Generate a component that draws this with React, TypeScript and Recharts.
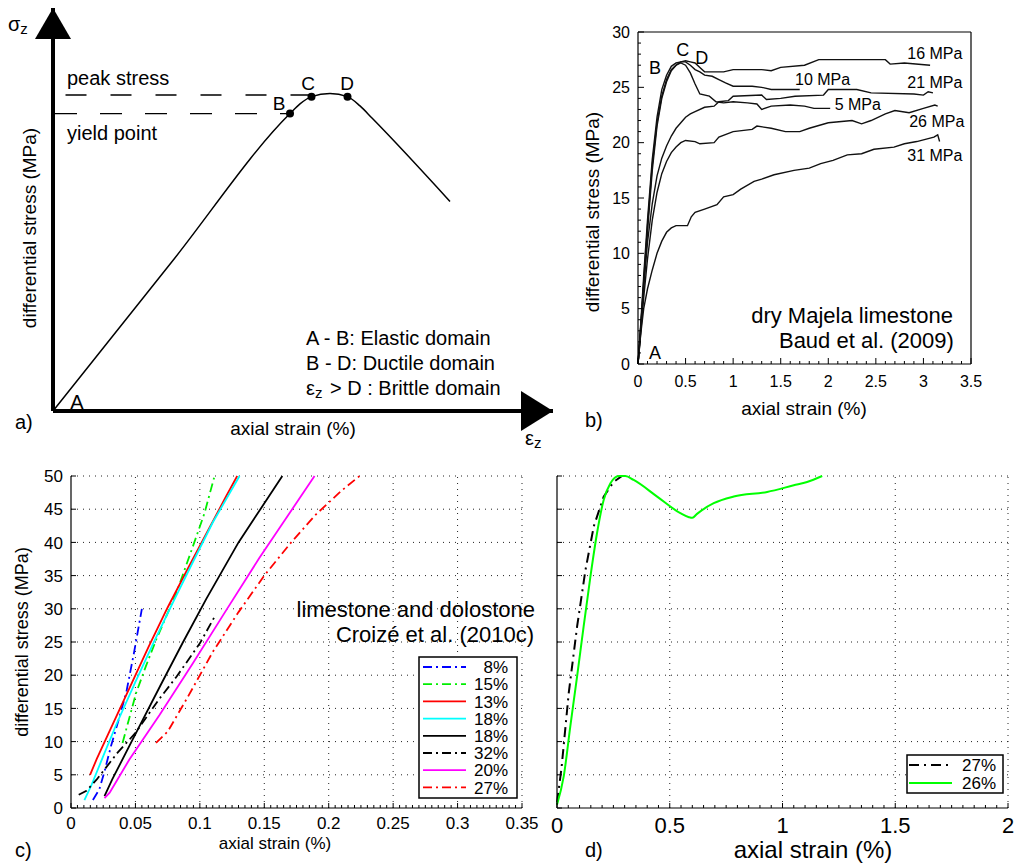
import React from "react";
import { LineChart, Line, XAxis, YAxis, ReferenceLine, ReferenceDot } from "recharts";

const FONT = "'Liberation Sans', Arial, Helvetica, sans-serif";

// ---------- a) schematic curve (arbitrary units) ----------
const schemeCurve = [
  [0, 0], [2.37, 3.69], [4.74, 7.38], [4.94, 7.62], [5.17, 7.8], [5.54, 7.88],
  [5.89, 7.8], [6.14, 7.57], [6.38, 7.27], [7.94, 5.2],
];
const schemeMarks = [[4.74, 7.38], [5.17, 7.8], [5.89, 7.8]];
const peakLevel = 7.84;
const yieldLevel = 7.38;

// ---------- b) dry Majela limestone, Baud et al. (2009) ----------
const baud5 = [
  [0, 0], [0.03, 3.5], [0.06, 7.5], [0.1, 12.5], [0.15, 18], [0.2, 21.8], [0.25, 24.2], [0.3, 25.7],
  [0.35, 26.6], [0.4, 27.0], [0.45, 27.2], [0.5, 27.0], [0.55, 26.3], [0.6, 25.3], [0.65, 24.4],
  [0.75, 24.2], [0.82, 23.7], [0.9, 23.6], [1.0, 23.7], [1.15, 23.6], [1.25, 23.5], [1.3, 23.0],
  [1.4, 23.3], [1.6, 23.4], [1.75, 23.3], [1.85, 23.1], [2.02, 23.1],
];
const baud10 = [
  [0, 0], [0.03, 3.8], [0.06, 8], [0.1, 13], [0.15, 18.5], [0.2, 22.3], [0.25, 24.8], [0.3, 26.1],
  [0.35, 26.9], [0.4, 27.2], [0.45, 27.3], [0.5, 27.3], [0.55, 27.0], [0.6, 26.6], [0.65, 26.4],
  [0.7, 26.1], [0.78, 26.0], [0.85, 25.7], [0.92, 25.4], [1.0, 25.1], [1.2, 25.1], [1.3, 25.0],
  [1.4, 24.8], [1.55, 24.8], [1.7, 24.8],
];
const baud16 = [
  [0, 0], [0.03, 3.2], [0.06, 7], [0.1, 12], [0.15, 17.5], [0.2, 21.5], [0.25, 24], [0.3, 25.5],
  [0.35, 26.5], [0.4, 27.0], [0.45, 27.3], [0.5, 27.4], [0.55, 27.3], [0.6, 27.2], [0.65, 26.8],
  [0.7, 26.4], [0.9, 26.4], [1.0, 26.6], [1.3, 26.6], [1.4, 26.5], [1.5, 26.8], [1.75, 27.0],
  [1.9, 27.5], [2.3, 27.5], [2.6, 27.5], [2.65, 27.1], [2.8, 27.2], [3.07, 27.0],
];
const baud21 = [
  [0, 0], [0.03, 3.5], [0.06, 7], [0.1, 11], [0.15, 14.5], [0.2, 17], [0.25, 18.6], [0.3, 19.7],
  [0.35, 20.6], [0.4, 21.3], [0.45, 21.8], [0.5, 22.3], [0.55, 22.6], [0.6, 22.8], [0.7, 23.2],
  [0.8, 23.3], [0.85, 23.7], [0.95, 23.8], [1.0, 24.2], [1.3, 24.3], [1.35, 23.9], [1.5, 24.0],
  [1.65, 24.2], [1.95, 24.3], [2.0, 24.8], [2.3, 24.8], [2.45, 24.5], [2.9, 24.4], [3.0, 24.3],
  [3.05, 24.6], [3.1, 24.5],
];
const baud26 = [
  [0, 0], [0.03, 3], [0.06, 6], [0.1, 9.5], [0.15, 13], [0.2, 15.5], [0.25, 17.2], [0.3, 18.3],
  [0.35, 19.1], [0.4, 19.6], [0.45, 20.0], [0.5, 20.2], [0.6, 20.1], [0.65, 19.9], [0.8, 20.0],
  [0.85, 20.5], [1.0, 21.0], [1.2, 21.2], [1.25, 21.5], [1.4, 21.3], [1.55, 21.0], [1.7, 21.0],
  [1.8, 21.3], [2.0, 21.8], [2.25, 22.0], [2.35, 21.7], [2.45, 22.0], [2.6, 22.6], [2.7, 22.9],
  [2.85, 22.7], [3.0, 23.1], [3.12, 23.4], [3.15, 23.3],
];
const baud31 = [
  [0, 0], [0.03, 2.8], [0.06, 5], [0.1, 6.8], [0.15, 8.5], [0.2, 10], [0.25, 11.1], [0.3, 11.9],
  [0.35, 12.3], [0.4, 12.5], [0.52, 12.5], [0.56, 13.3], [0.6, 13.7], [0.7, 14.0], [0.83, 14.4],
  [0.9, 15.1], [1.0, 15.3], [1.08, 15.8], [1.22, 16.5], [1.3, 16.7], [1.43, 17.1], [1.64, 17.5],
  [1.8, 17.7], [1.92, 18.1], [2.05, 18.4], [2.2, 18.9], [2.35, 19.0], [2.48, 19.4], [2.69, 19.6],
  [2.8, 19.9], [2.93, 20.1], [3.11, 20.5], [3.15, 20.7], [3.17, 20.1],
];
const baudCurves = [baud5, baud10, baud16, baud21, baud26, baud31];

// ---------- c) limestone and dolostone, Croizé et al. (2010c) ----------
const c8 = [[0.017, 1.2], [0.022, 2.8], [0.026, 5.5], [0.031, 9.3], [0.037, 13.3], [0.043, 17.5], [0.049, 23.5], [0.055, 30]];
const c15 = [[0.04, 9.8], [0.0505, 17.3], [0.058, 21.3], [0.066, 25.3], [0.0816, 32.3], [0.0946, 39.4], [0.1036, 44.4], [0.1114, 50]];
const c13 = [[0.0148, 5], [0.02, 7.4], [0.03, 11.6], [0.045, 17.9], [0.06, 24.2], [0.075, 30.2], [0.09, 35.8], [0.105, 41.3], [0.12, 46.8], [0.129, 50]];
const c18a = [[0.0104, 1.2], [0.016, 3.5], [0.025, 7.8], [0.035, 12.5], [0.05, 19], [0.065, 25.3], [0.08, 31.3], [0.095, 37.2], [0.11, 43], [0.1308, 50]];
const c18b = [[0.026, 1.8], [0.032, 4.3], [0.047, 10], [0.069, 18.3], [0.087, 25], [0.105, 31.5], [0.13, 40], [0.164, 50]];
const c32 = [[0.006, 2.0], [0.012, 2.6], [0.02, 4.3], [0.036, 8.3], [0.05, 11.3], [0.068, 16.3], [0.082, 19.8], [0.1, 24.8], [0.112, 29]];
const c20 = [[0.026, 1.5], [0.03, 2.3], [0.0453, 7.3], [0.0687, 14], [0.0946, 21.8], [0.1205, 29.8], [0.146, 37.6], [0.189, 50]];
const c27 = [[0.066, 9.8], [0.075, 11.5], [0.09, 16.5], [0.11, 23.5], [0.13, 29.5], [0.15, 35], [0.17, 39.8], [0.19, 44.2], [0.21, 47.8], [0.224, 50]];
const croizeCurves = [c8, c15, c13, c18a, c18b, c32, c20, c27];
const croizeNames = ["8%", "15%", "13%", "18%", "18%", "32%", "20%", "27%"];
const croizeColors = ["#0000ff", "#00ee00", "#ff0000", "#00ffff", "#000000", "#000000", "#ff00ff", "#ff0000"];
const DASHDOT = "9 4 2 4";
const croizeDash = [DASHDOT, DASHDOT, undefined, undefined, undefined, DASHDOT, undefined, DASHDOT];

// ---------- d) ----------
const d27 = [[0, 0.8], [0.02, 6], [0.052, 17.3], [0.089, 27.3], [0.126, 35.8], [0.163, 42.4], [0.207, 46.9], [0.251, 49.1], [0.288, 50]];
const d26 = [
  [0, 0.5], [0.03, 4.8], [0.059, 12.3], [0.089, 19.8], [0.118, 27.3], [0.148, 34.8], [0.177, 41.3],
  [0.207, 46.4], [0.237, 48.9], [0.274, 50], [0.303, 50], [0.34, 49.4], [0.444, 46.9], [0.547, 44.4],
  [0.585, 43.8], [0.6, 43.7], [0.621, 44.3], [0.695, 45.9], [0.784, 46.9], [0.932, 47.6], [1.05, 48.6],
  [1.109, 49.1], [1.176, 50],
];
const dNames = ["27%", "26%"];

// ticks
const bXMajor = [0, 0.5, 1, 1.5, 2, 2.5, 3, 3.5];
const bYMajor = [0, 5, 10, 15, 20, 25, 30];
const cXMajor = [0, 0.05, 0.1, 0.15, 0.2, 0.25, 0.3, 0.35];
const yMajor50 = [0, 5, 10, 15, 20, 25, 30, 35, 40, 45, 50];
const dXMajor = [0, 0.5, 1, 1.5, 2];

const steps = (from: number, to: number, step: number) => {
  const out: number[] = [];
  const n = Math.round((to - from) / step);
  for (let i = 0; i <= n; i++) out.push(Math.round((from + i * step) * 10000) / 10000);
  return out;
};

const pts = (a: number[][]) => a.map(([x, y]) => ({ x, y }));
const isIn = (list: number[], v: number) => list.some((m) => Math.abs(m - v) < 1e-9);

type Side = "bottom" | "top" | "left" | "right";
const makeTick = (side: Side, major: number[], fs: number, gap: number, majLen: number, minLen: number, labels: boolean) =>
  (props: any) => {
    const { x, y, payload } = props;
    const v = payload.value;
    const maj = isIn(major, v);
    const len = maj ? majLen : minLen;
    let x2 = x, y2 = y;
    if (side === "bottom") y2 = y - len;
    if (side === "top") y2 = y + len;
    if (side === "left") x2 = x + len;
    if (side === "right") x2 = x - len;
    return (
      <g>
        {len > 0 && <line x1={x} y1={y} x2={x2} y2={y2} stroke="#000" strokeWidth={1} />}
        {labels && maj && side === "bottom" && (
          <text x={x} y={y + gap} dy="0.72em" textAnchor="middle" fontSize={fs} fill="#000" fontFamily={FONT}>{String(v)}</text>
        )}
        {labels && maj && side === "left" && (
          <text x={x - gap} y={y} dy="0.36em" textAnchor="end" fontSize={fs} fill="#000" fontFamily={FONT}>{String(v)}</text>
        )}
      </g>
    );
  };

const note = (key: string, x: number, y: number, text: React.ReactNode, fs: number, anchor: string = "middle") => (
  <ReferenceDot
    key={key}
    x={x}
    y={y}
    ifOverflow="visible"
    shape={(p: any) => (
      <text x={p.cx} y={p.cy} dy="0.36em" textAnchor={anchor} fontSize={fs} fill="#000" fontFamily={FONT}>{text}</text>
    )}
  />
);

const Sub = ({ base, sub }: { base: string; sub: string }) => (
  <>
    {base}
    <tspan fontSize="0.75em" dy="0.2em">{sub}</tspan>
    <tspan dy="-0.2em"> </tspan>
  </>
);

function PanelA() {
  return (
    <LineChart width={600} height={450} margin={{ top: 8, right: 47, bottom: 29, left: 43 }}>
      <XAxis type="number" dataKey="x" domain={[0, 10]} height={10} tick={false} tickLine={false} axisLine={{ stroke: "#000", strokeWidth: 4 }} />
      <YAxis type="number" dataKey="y" domain={[0, 10]} width={10} tick={false} tickLine={false} axisLine={{ stroke: "#000", strokeWidth: 4 }} />
      <ReferenceLine segment={[{ x: 0.25, y: peakLevel }, { x: schemeMarks[1][0], y: peakLevel }]} stroke="#000" strokeWidth={1.4} strokeDasharray="21 24" ifOverflow="visible" />
      <ReferenceLine segment={[{ x: 0.04, y: yieldLevel }, { x: schemeMarks[0][0], y: yieldLevel }]} stroke="#000" strokeWidth={1.4} strokeDasharray="22 23" ifOverflow="visible" />
      <Line data={pts(schemeCurve)} dataKey="y" type="monotone" stroke="#000" strokeWidth={1.5} dot={false} isAnimationActive={false} />
      {schemeMarks.map(([x, y], i) => (
        <ReferenceDot key={"m" + i} x={x} y={y} r={4} fill="#000" stroke="none" ifOverflow="visible" />
      ))}
      <ReferenceDot x={10} y={0} ifOverflow="visible" shape={(p: any) => (
        <polygon points={`${p.cx},${p.cy} ${p.cx - 32},${p.cy - 20} ${p.cx - 32},${p.cy + 20}`} fill="#000" />
      )} />
      <ReferenceDot x={0} y={10} ifOverflow="visible" shape={(p: any) => (
        <polygon points={`${p.cx},${p.cy} ${p.cx - 18},${p.cy + 31} ${p.cx + 18},${p.cy + 31}`} fill="#000" />
      )} />
      {note("ps", 0.28, 8.26, "peak stress", 20, "start")}
      {note("yp", 0.28, 6.9, "yield point", 20, "start")}
      {note("A", 0.48, 0.22, "A", 20)}
      {note("B", 4.52, 7.64, "B", 19)}
      {note("C", 5.1, 8.14, "C", 19)}
      {note("D", 5.88, 8.14, "D", 19)}
      {note("l1", 5.06, 1.81, "A - B: Elastic domain", 20, "start")}
      {note("l2", 5.06, 1.19, "B - D: Ductile domain", 20, "start")}
      {note("l3", 5.06, 0.57, <Sub base="ε" sub="z" />, 20, "start")}
      {note("l3b", 5.54, 0.57, "> D : Brittle domain", 20, "start")}
    </LineChart>
  );
}

function PanelB() {
  const xt = steps(0, 3.5, 0.1);
  const yt = steps(0, 30, 1);
  const bLabels = ["5 MPa", "10 MPa", "16 MPa", "21 MPa", "26 MPa", "31 MPa"];
  return (
    <LineChart width={440} height={400} margin={{ top: 31, right: 28, bottom: 6, left: 38 }}>
      <XAxis xAxisId={0} type="number" dataKey="x" domain={[0, 3.5]} ticks={xt} interval={0} height={30} tickSize={0} tickMargin={0} tickLine={false}
        axisLine={{ stroke: "#000", strokeWidth: 1.2 }} tick={makeTick("bottom", bXMajor, 16, 11, 6, 3, true)} />
      <XAxis xAxisId="top" orientation="top" type="number" dataKey="x" domain={[0, 3.5]} ticks={xt} interval={0} height={1} tickSize={0} tickMargin={0} tickLine={false}
        axisLine={{ stroke: "#000", strokeWidth: 1.2 }} tick={makeTick("top", bXMajor, 16, 0, 6, 3, false)} />
      <YAxis yAxisId={0} type="number" dataKey="y" domain={[0, 30]} ticks={yt} interval={0} width={40} tickSize={0} tickMargin={0} tickLine={false}
        axisLine={{ stroke: "#000", strokeWidth: 1.2 }} tick={makeTick("left", bYMajor, 16, 8, 6, 3, true)} />
      <YAxis yAxisId="right" orientation="right" type="number" dataKey="y" domain={[0, 30]} ticks={yt} interval={0} width={1} tickSize={0} tickMargin={0} tickLine={false}
        axisLine={{ stroke: "#000", strokeWidth: 1.2 }} tick={makeTick("right", bYMajor, 16, 0, 6, 3, false)} />
      {baudCurves.map((c, i) => (
        <Line key={bLabels[i]} name={bLabels[i]} data={pts(c)} dataKey="y" type="linear" stroke="#111" strokeWidth={1.4} dot={false} isAnimationActive={false} />
      ))}
      {note("bB", 0.18, 26.75, "B", 18)}
      {note("bC", 0.47, 28.4, "C", 18)}
      {note("bD", 0.67, 27.65, "D", 18)}
      {note("bA", 0.18, 1.08, "A", 18)}
      {note("b16", 3.12, 28.1, "16 MPa", 16)}
      {note("b10", 1.94, 25.75, "10 MPa", 16)}
      {note("b21", 3.12, 25.5, "21 MPa", 16)}
      {note("b5", 2.31, 23.5, "5 MPa", 16)}
      {note("b26", 3.14, 21.95, "26 MPa", 16)}
      {note("b31", 3.12, 18.9, "31 MPa", 16)}
      {note("bt1", 3.31, 4.43, "dry Majela limestone", 22, "end")}
      {note("bt2", 3.32, 2.17, "Baud et al. (2009)", 22, "end")}
    </LineChart>
  );
}

const gridProps = { stroke: "#222", strokeWidth: 1, strokeDasharray: "1 5" };

function PanelC() {
  const xt = steps(0, 0.35, 0.005);
  return (
    <LineChart width={560} height={413} margin={{ top: 26, right: 38, bottom: 25, left: 31 }}>
      <XAxis type="number" dataKey="x" domain={[0, 0.35]} ticks={xt} interval={0} height={30} tickSize={0} tickMargin={0} tickLine={false}
        axisLine={{ stroke: "#000", strokeWidth: 1.2 }} tick={makeTick("bottom", cXMajor, 17, 9, 5, 3, true)} />
      <YAxis type="number" dataKey="y" domain={[0, 50]} ticks={yMajor50} interval={0} width={40} tickSize={0} tickMargin={0} tickLine={false}
        axisLine={{ stroke: "#000", strokeWidth: 1.2 }} tick={makeTick("left", yMajor50, 17, 8, 5, 0, true)} />
      {cXMajor.slice(1).map((v) => <ReferenceLine key={"gx" + v} x={v} {...gridProps} />)}
      {yMajor50.slice(1).map((v) => <ReferenceLine key={"gy" + v} y={v} {...gridProps} />)}
      {croizeCurves.map((c, i) => (
        <Line key={"c" + i} name={croizeNames[i]} data={pts(c)} dataKey="y" type="linear" stroke={croizeColors[i]} strokeWidth={1.8}
          strokeDasharray={croizeDash[i]} dot={false} isAnimationActive={false} />
      ))}
    </LineChart>
  );
}

function PanelD() {
  const xt = steps(0, 2, 0.05);
  return (
    <LineChart width={474} height={413} margin={{ top: 26, right: 6, bottom: 25, left: 7 }}>
      <XAxis type="number" dataKey="x" domain={[0, 2]} ticks={xt} interval={0} height={30} tickSize={0} tickMargin={0} tickLine={false}
        axisLine={{ stroke: "#000", strokeWidth: 1.2 }} tick={makeTick("bottom", dXMajor, 22, 9, 5, 3, true)} />
      <YAxis type="number" dataKey="y" domain={[0, 50]} ticks={yMajor50} interval={0} width={10} tickSize={0} tickMargin={0} tickLine={false}
        axisLine={{ stroke: "#000", strokeWidth: 1.2 }} tick={makeTick("left", yMajor50, 17, 8, 5, 0, false)} />
      {dXMajor.slice(1).map((v) => <ReferenceLine key={"gx" + v} x={v} {...gridProps} />)}
      {yMajor50.slice(1).map((v) => <ReferenceLine key={"gy" + v} y={v} {...gridProps} />)}
      <Line name={dNames[0]} data={pts(d27)} dataKey="y" type="linear" stroke="#000" strokeWidth={2} strokeDasharray="10 5 2 5" dot={false} isAnimationActive={false} />
      <Line name={dNames[1]} data={pts(d26)} dataKey="y" type="monotone" stroke="#00ff00" strokeWidth={2} dot={false} isAnimationActive={false} />
    </LineChart>
  );
}

function Overlay() {
  const t = (x: number, y: number, s: React.ReactNode, fs: number, anchor = "middle", rot = 0) => (
    <text x={x} y={y} dy="0.36em" fontSize={fs} textAnchor={anchor} fill="#000" fontFamily={FONT}
      transform={rot ? `rotate(${rot} ${x} ${y})` : undefined}>{s}</text>
  );
  return (
    <svg width={1014} height={863} style={{ position: "absolute", left: 0, top: 0, pointerEvents: "none" }}>
      {t(8, 24, <Sub base="σ" sub="z" />, 20, "start")}
      {t(525, 438, <Sub base="ε" sub="z" />, 20, "start")}
      {t(15, 422, "a)", 20, "start")}
      {t(585, 420, "b)", 20, "start")}
      {t(15, 850, "c)", 20, "start")}
      {t(585, 850, "d)", 20, "start")}
      {t(29, 228, "differential stress (MPa)", 19, "middle", -90)}
      {t(293, 428, "axial strain (%)", 19)}
      {t(592, 212, "differential stress (MPa)", 19, "middle", -90)}
      {t(804, 408, "axial strain (%)", 19)}
      {t(22, 642, "differential stress (MPa)", 18, "middle", -90)}
      {t(275, 843, "axial strain (%)", 17)}
      {t(813, 849, "axial strain (%)", 24)}
      {t(535, 609, "limestone and dolostone", 22, "end")}
      {t(534, 634, "Croizé et al. (2010c)", 22, "end")}
      {/* legend c */}
      <rect x={419} y={657} width={98} height={141} fill="#fff" stroke="#000" strokeWidth={1.5} />
      {croizeNames.map((n, i) => {
        const y = 667 + i * 17.2;
        return (
          <g key={"lc" + i}>
            <line x1={423} x2={466} y1={y} y2={y} stroke={croizeColors[i]} strokeWidth={1.8} strokeDasharray={croizeDash[i]} />
            {t(508, y, n, 17, "end")}
          </g>
        );
      })}
      {/* legend d */}
      <rect x={907} y={755} width={96} height={38} fill="#fff" stroke="#000" strokeWidth={1.5} />
      <line x1={909} x2={952} y1={765} y2={765} stroke="#000" strokeWidth={2} strokeDasharray="10 5 2 5" />
      {t(996, 765, dNames[0], 17, "end")}
      <line x1={909} x2={952} y1={783} y2={783} stroke="#00ff00" strokeWidth={2} />
      {t(996, 783, dNames[1], 17, "end")}
    </svg>
  );
}

export default function App() {
  return (
    <div style={{ position: "absolute", left: 0, top: 0, width: 1014, height: 863, background: "#fff", fontFamily: FONT }}>
      <div style={{ position: "absolute", left: 0, top: 0 }}><PanelA /></div>
      <div style={{ position: "absolute", left: 560, top: 0 }}><PanelB /></div>
      <div style={{ position: "absolute", left: 0, top: 450 }}><PanelC /></div>
      <div style={{ position: "absolute", left: 540, top: 450 }}><PanelD /></div>
      <Overlay />
    </div>
  );
}
